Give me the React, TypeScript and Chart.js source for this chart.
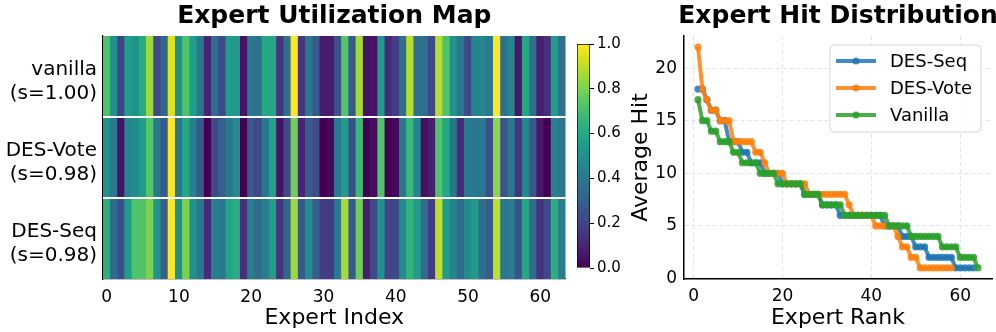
import React, { useEffect, useRef } from "react";
import { Chart, registerables } from "chart.js";

Chart.register(...registerables);
Chart.defaults.font.family = '"DejaVu Sans", sans-serif';
Chart.defaults.color = "#000";

// ---------- DATA ----------
const expertIndex = Array.from({ length: 64 }, (_, i) => String(i));
const indexTicks = [0, 10, 20, 30, 40, 50, 60];
const rowLabels = [
  ["vanilla", "(s=1.00)"],
  ["DES-Vote", "(s=0.98)"],
  ["DES-Seq", "(s=0.98)"],
];

const vanillaUtil = [
  0.72, 0.5, 0.2, 0.55, 0.5, 0.62, 0.85, 0.22, 0.33, 0.95,
  0.5, 0.72, 0.56, 0.4, 0.1, 0.35, 0.22, 0.55, 0.53, 0.05,
  0.4, 0.37, 0.6, 0.6, 0.15, 0.37, 1.0, 0.15, 0.4, 0.28,
  0.07, 0.07, 0.25, 0.73, 0.28, 0.86, 0.05, 0.05, 0.53, 0.12,
  0.18, 0.37, 0.89, 0.37, 0.37, 0.22, 0.89, 0.72, 0.5, 0.4,
  0.22, 0.45, 0.45, 0.4, 1.0, 0.37, 0.46, 0.06, 0.6, 0.37,
  0.08, 0.13, 0.55, 0.37,
];
const voteUtil = [
  0.5, 0.4, 0.05, 0.45, 0.48, 0.55, 0.73, 0.4, 0.28, 1.0,
  0.4, 0.6, 0.43, 0.28, 0.0, 0.22, 0.3, 0.4, 0.47, 0.0,
  0.28, 0.22, 0.4, 0.57, 0.05, 0.22, 0.78, 0.1, 0.28, 0.23,
  0.0, 0.02, 0.4, 0.55, 0.24, 0.68, 0.0, 0.03, 0.72, 0.0,
  0.02, 0.4, 0.67, 0.45, 0.04, 0.08, 0.72, 0.6, 0.4, 0.12,
  0.4, 0.4, 0.4, 0.24, 0.82, 0.25, 0.4, 0.15, 0.46, 0.28,
  0.06, 0.0, 0.43, 0.4,
];
const seqUtil = [
  0.63, 0.35, 0.24, 0.55, 0.72, 0.72, 0.8, 0.52, 0.3, 1.0,
  0.5, 0.8, 0.5, 0.4, 0.12, 0.42, 0.4, 0.58, 0.62, 0.13,
  0.42, 0.35, 0.42, 0.56, 0.14, 0.33, 0.85, 0.28, 0.48, 0.3,
  0.17, 0.17, 0.4, 0.86, 0.28, 0.78, 0.08, 0.22, 0.5, 0.2,
  0.22, 0.47, 0.65, 0.55, 0.35, 0.17, 0.9, 0.55, 0.45, 0.34,
  0.47, 0.54, 0.36, 0.29, 0.9, 0.4, 0.42, 0.25, 0.6, 0.35,
  0.14, 0.22, 0.63, 0.42,
];
const colorbarTicks = [0, 0.2, 0.4, 0.6, 0.8, 1.0];

const seriesNames = ["DES-Seq", "DES-Vote", "Vanilla"];
const seqHits = [
  18, 18, 17, 16, 16, 15, 15, 13, 13, 13, 12, 12, 11, 11, 11, 10, 10, 10, 10,
  9, 9, 9, 9, 9, 8, 8, 8, 8, 7, 7, 7, 7, 6, 6, 6, 6, 6, 6, 6, 6, 6, 6,
  5, 5, 5, 5, 4, 4, 4, 3, 3, 3, 2, 2, 2, 2, 2, 2, 1, 1, 1, 1, 1,
];
const voteHits = [
  22, 18, 17, 16, 16, 15, 15, 15, 13, 13, 13, 13, 13, 12, 12, 11, 10, 10, 10, 10,
  9, 9, 9, 9, 9, 8, 8, 8, 8, 8, 8, 8, 8, 8, 7, 6, 6, 6, 6, 6,
  5, 5, 5, 5, 5, 4, 3, 3, 2, 2, 1, 1, 1, 1, 1, 1, 1, 1,
];
const vanillaHits = [
  17, 15, 15, 14, 14, 13, 13, 13, 12, 12, 11, 11, 11, 11, 10, 10, 10, 10,
  9, 9, 9, 9, 9, 9, 8, 8, 8, 8, 7, 7, 7, 7, 7, 6, 6, 6, 6, 6, 6, 6, 6, 6, 6,
  5, 5, 5, 5, 5, 4, 4, 4, 4, 4, 4, 4, 3, 3, 3, 3, 2, 2, 2, 2, 1,
];
const rankTicks = [0, 20, 40, 60];
const hitTicks = [0, 5, 10, 15, 20];

// ---------- STYLE ----------
const FONT = '"DejaVu Sans", sans-serif';
const VIRIDIS = [
  "#440154", "#48186a", "#472d7b", "#424086", "#3b528b", "#33638d",
  "#2c728e", "#26828e", "#21918c", "#1fa088", "#28ae80", "#3fbc73",
  "#5ec962", "#84d44b", "#addc30", "#d8e219", "#fde725",
];
function hexToRgb(h: string) {
  return [1, 3, 5].map((i) => parseInt(h.slice(i, i + 2), 16));
}
function viridis(t: number) {
  const v = Math.max(0, Math.min(1, t)) * (VIRIDIS.length - 1);
  const i = Math.min(Math.floor(v), VIRIDIS.length - 2);
  const f = v - i;
  const a = hexToRgb(VIRIDIS[i]);
  const b = hexToRgb(VIRIDIS[i + 1]);
  const c = a.map((x, k) => Math.round(x + (b[k] - x) * f));
  return `rgb(${c[0]},${c[1]},${c[2]})`;
}
const seriesColors = [
  "rgba(31,119,180,0.85)",
  "rgba(255,127,14,0.85)",
  "rgba(44,160,44,0.85)",
];

const titlePlugin = (text: string) => ({
  id: "panelTitle",
  afterDraw(chart: any) {
    const { ctx, chartArea } = chart;
    ctx.save();
    ctx.font = `bold 25px ${FONT}`;
    ctx.fillStyle = "#000";
    ctx.textAlign = "center";
    ctx.textBaseline = "alphabetic";
    ctx.fillText(text, (chartArea.left + chartArea.right) / 2, 23);
    ctx.restore();
  },
});

const rowLinesPlugin = {
  id: "rowLines",
  afterDatasetsDraw(chart: any) {
    const { ctx, chartArea, scales } = chart;
    ctx.save();
    ctx.strokeStyle = "#ffffff";
    ctx.lineWidth = 2;
    for (let r = 1; r < rowLabels.length; r++) {
      const py = scales.y.getPixelForValue(r);
      ctx.beginPath();
      ctx.moveTo(chartArea.left, py);
      ctx.lineTo(chartArea.right, py);
      ctx.stroke();
    }
    ctx.restore();
  },
};

const legendPlugin = {
  id: "boxLegend",
  afterDraw(chart: any) {
    const { ctx, chartArea } = chart;
    const w = 151;
    const h = 87;
    const x = chartArea.right - 11 - w;
    const y = chartArea.top + 9;
    ctx.save();
    ctx.beginPath();
    ctx.roundRect(x, y, w, h, 4);
    ctx.fillStyle = "rgba(255,255,255,0.85)";
    ctx.fill();
    ctx.strokeStyle = "#d6d6d6";
    ctx.lineWidth = 1;
    ctx.stroke();
    chart.data.datasets.forEach((ds: any, i: number) => {
      const cy = y + 16 + i * 27;
      ctx.strokeStyle = ds.borderColor;
      ctx.lineWidth = 4;
      ctx.beginPath();
      ctx.moveTo(x + 6, cy);
      ctx.lineTo(x + 46, cy);
      ctx.stroke();
      ctx.fillStyle = ds.borderColor;
      ctx.beginPath();
      ctx.arc(x + 26, cy, 3.5, 0, Math.PI * 2);
      ctx.fill();
      ctx.fillStyle = "#000";
      ctx.font = `18px ${FONT}`;
      ctx.textAlign = "left";
      ctx.textBaseline = "middle";
      ctx.fillText(ds.label, x + 60, cy + 1);
    });
    ctx.restore();
  },
};

function Heatmap() {
  const ref = useRef<HTMLCanvasElement>(null);
  useEffect(() => {
    const rows = [vanillaUtil, voteUtil, seqUtil];
    const chart = new Chart(ref.current!, {
      type: "bar",
      data: {
        labels: expertIndex,
        datasets: rows.map((vals, r) => ({
          label: rowLabels[r].join(" "),
          data: vals.map(() => [r, r + 1]),
          backgroundColor: vals.map(viridis),
          borderWidth: 0,
          barPercentage: 1,
          categoryPercentage: 1,
          grouped: false,
        })),
      } as any,
      options: {
        responsive: false,
        animation: false,
        layout: { padding: { top: 36, right: 4, left: 0, bottom: 0 } },
        plugins: { legend: { display: false }, tooltip: { enabled: false } },
        scales: {
          x: {
            type: "category",
            offset: true,
            grid: { display: false, drawTicks: false },
            border: { display: true, color: "#000", width: 1.2 },
            ticks: {
              autoSkip: false,
              maxRotation: 0,
              padding: 8,
              color: "#000",
              font: { size: 17, family: FONT },
              callback: (_v: any, i: number) =>
                indexTicks.includes(i) ? expertIndex[i] : "",
            },
            title: {
              display: true,
              text: "Expert Index",
              color: "#000",
              font: { size: 22, family: FONT },
              padding: { top: 0, bottom: 1 },
            },
            afterFit: (s: any) => {
              s.height = 53;
            },
          },
          y: {
            type: "linear",
            min: 0,
            max: rowLabels.length,
            reverse: true,
            grid: { display: false, drawTicks: false },
            border: { display: true, color: "#000", width: 1.2 },
            afterBuildTicks: (s: any) => {
              s.ticks = rowLabels.map((_, i) => ({ value: i + 0.5 }));
            },
            ticks: {
              padding: 6,
              labelOffset: 5,
              color: "#000",
              font: { size: 20, family: FONT },
              callback: (v: any) => rowLabels[Math.floor(v)],
            },
            afterFit: (s: any) => {
              s.width = 103;
            },
          },
        },
      } as any,
      plugins: [rowLinesPlugin, titlePlugin("Expert Utilization Map")],
    });
    return () => chart.destroy();
  }, []);
  return (
    <canvas
      ref={ref}
      width={570}
      height={332}
      style={{ position: "absolute", left: 0, top: 0, width: 570, height: 332 }}
    />
  );
}

function Colorbar() {
  const ref = useRef<HTMLCanvasElement>(null);
  useEffect(() => {
    const chart = new Chart(ref.current!, {
      type: "bar",
      data: {
        labels: [""],
        datasets: [
          {
            data: [[0, 1]],
            backgroundColor: (c: any) => {
              const ca = c.chart.chartArea;
              if (!ca) return VIRIDIS[8];
              const g = c.chart.ctx.createLinearGradient(0, ca.bottom, 0, ca.top);
              VIRIDIS.forEach((col, i) => g.addColorStop(i / (VIRIDIS.length - 1), col));
              return g;
            },
            borderColor: "#000",
            borderWidth: 1,
            borderSkipped: false,
            barPercentage: 1,
            categoryPercentage: 1,
          },
        ],
      } as any,
      options: {
        responsive: false,
        animation: false,
        layout: { padding: { top: 44, bottom: 64, left: 7, right: 0 } },
        plugins: { legend: { display: false }, tooltip: { enabled: false } },
        scales: {
          x: { display: false },
          y: {
            position: "right",
            min: 0,
            max: 1,
            border: { display: false },
            grid: {
              display: true,
              drawOnChartArea: false,
              drawTicks: true,
              tickLength: 4,
              tickColor: "#000",
              tickWidth: 1,
            },
            afterBuildTicks: (s: any) => {
              s.ticks = colorbarTicks.map((v) => ({ value: v }));
            },
            ticks: {
              padding: 3,
              color: "#000",
              font: { size: 15, family: FONT },
              callback: (v: any) => Number(v).toFixed(1),
            },
            afterFit: (s: any) => {
              s.width = 40;
            },
          },
        },
      } as any,
    });
    return () => chart.destroy();
  }, []);
  return (
    <canvas
      ref={ref}
      width={60}
      height={332}
      style={{ position: "absolute", left: 570, top: 0, width: 60, height: 332 }}
    />
  );
}

function HitChart() {
  const ref = useRef<HTMLCanvasElement>(null);
  useEffect(() => {
    const series = [seqHits, voteHits, vanillaHits];
    const chart = new Chart(ref.current!, {
      type: "line",
      data: {
        datasets: series.map((vals, k) => ({
          label: seriesNames[k],
          data: vals.map((v, i) => ({ x: i + 1, y: v })),
          borderColor: seriesColors[k],
          backgroundColor: seriesColors[k],
          pointBackgroundColor: seriesColors[k],
          pointBorderWidth: 0,
          pointRadius: 3.6,
          borderWidth: 4,
          fill: false,
          tension: 0,
          order: series.length - k,
        })),
      } as any,
      options: {
        responsive: false,
        animation: false,
        layout: { padding: { top: 36, right: 2, left: 0, bottom: 0 } },
        plugins: { legend: { display: false }, tooltip: { enabled: false } },
        scales: {
          x: {
            type: "linear",
            min: -2.15,
            max: 67.15,
            afterBuildTicks: (s: any) => {
              s.ticks = rankTicks.map((v) => ({ value: v }));
            },
            grid: { color: "#e4e4e4", lineWidth: 1, drawTicks: false },
            border: { display: true, color: "#000", width: 1.5, dash: [4, 3] },
            ticks: { padding: 7, color: "#000", font: { size: 17, family: FONT } },
            title: {
              display: true,
              text: "Expert Rank",
              color: "#000",
              font: { size: 22, family: FONT },
              padding: { top: 0, bottom: 1 },
            },
            afterFit: (s: any) => {
              s.height = 53;
            },
          },
          y: {
            type: "linear",
            min: -0.05,
            max: 23.05,
            afterBuildTicks: (s: any) => {
              s.ticks = hitTicks.map((v) => ({ value: v }));
            },
            grid: { color: "#e4e4e4", lineWidth: 1, drawTicks: false },
            border: { display: true, color: "#000", width: 1.5, dash: [4, 3] },
            ticks: { padding: 7, color: "#000", font: { size: 17, family: FONT } },
            title: {
              display: true,
              text: "Average Hit",
              color: "#000",
              font: { size: 22, family: FONT },
              padding: { top: 0, bottom: 0 },
            },
            afterFit: (s: any) => {
              s.width = 56;
            },
          },
        },
      } as any,
      plugins: [legendPlugin, titlePlugin("Expert Hit Distribution")],
    });
    return () => chart.destroy();
  }, []);
  return (
    <canvas
      ref={ref}
      width={368}
      height={332}
      style={{ position: "absolute", left: 628, top: 0, width: 368, height: 332 }}
    />
  );
}

export default function App() {
  return (
    <div
      style={{
        position: "fixed",
        left: 0,
        top: 0,
        width: 996,
        height: 332,
        overflow: "hidden",
        background: "#fff",
      }}
    >
      <Heatmap />
      <Colorbar />
      <HitChart />
    </div>
  );
}
